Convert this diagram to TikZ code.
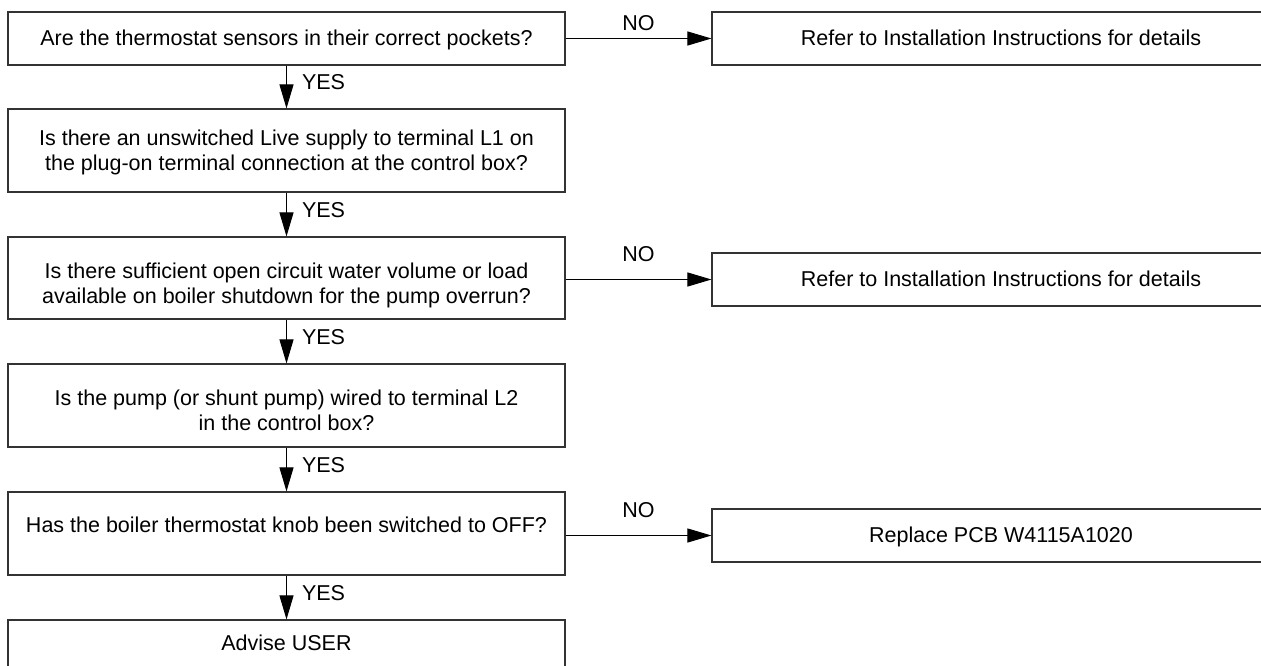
\documentclass[tikz,border=0pt]{standalone}
\usepackage{fontspec}
\setmainfont{Liberation Sans}
\usetikzlibrary{arrows.meta}
\newcommand\bxt[2]{\raisebox{#1}[\height][\depth]{\begin{tabular}{@{}c@{}}#2\end{tabular}}}
\begin{document}
\begin{tikzpicture}[x=1pt,y=-1pt,
  every node/.style={font=\fontsize{21.5}{25.5}\selectfont},
  lbox/.style={draw=black!80, line width=1.1pt, rectangle, inner sep=0pt, minimum width=557pt},
  rbox/.style={draw=black!80, line width=1.1pt, rectangle, inner sep=0pt, minimum width=578pt, minimum height=53pt},
  arr/.style={-{Triangle[length=24pt,width=14pt]}, line width=1pt, draw=black},
  yes/.style={anchor=west, inner sep=0pt, xshift=15pt, yshift=4.5pt},
  nolab/.style={inner sep=0pt, yshift=#1},
  nolab/.default=25pt]
\useasboundingbox (0,0) rectangle (1261,666);
\clip (0,0) rectangle (1261,666);

\node[lbox, minimum height=53pt] (q1) at (286.5,38.5) {\bxt{-1.6pt}{Are the thermostat sensors in their correct pockets?}};
\node[lbox, minimum height=83pt] (q2) at (286.5,150.5) {\bxt{-2.6pt}{Is there an unswitched Live supply to terminal L1 on\\the plug-on terminal connection at the control box?}};
\node[lbox, minimum height=82pt] (q3) at (286.5,278) {\bxt{-8.1pt}{Is there sufficient open circuit water volume or load\\available on boiler shutdown for the pump overrun?}};
\node[lbox, minimum height=83pt] (q4) at (286.5,405.5) {\bxt{-7.6pt}{Is the pump (or shunt pump) wired to terminal L2\\in the control box?}};
\node[lbox, minimum height=83pt] (q5) at (286.5,533.5) {\bxt{5.9pt}{Has the boiler thermostat knob been switched to OFF?}};
\node[lbox, minimum height=56pt] (q6) at (286.5,648) {\bxt{2.4pt}{Advise USER}};

\node[rbox] (r1) at (1001,38.5) {\bxt{-1.6pt}{Refer to Installation Instructions for details}};
\node[rbox] (r2) at (1001,279.5) {\bxt{-1.6pt}{Refer to Installation Instructions for details}};
\node[rbox] (r3) at (1001,535.5) {\bxt{-1.6pt}{Replace PCB W4115A1020}};

\draw[arr] (q1) -- node[yes]{YES} (q2);
\draw[arr] (q2) -- node[yes]{YES} (q3);
\draw[arr] (q3) -- node[yes]{YES} (q4);
\draw[arr] (q4) -- node[yes]{YES} (q5);
\draw[arr] (q5) -- node[yes]{YES} (q6);

\draw[arr] (q1.east) -- node[nolab=15pt]{NO} (r1.west);
\draw[arr] (q3.east |- r2.west) -- node[nolab]{NO} (r2.west);
\draw[arr] (q5.east |- r3.west) -- node[nolab]{NO} (r3.west);
\end{tikzpicture}
\end{document}
